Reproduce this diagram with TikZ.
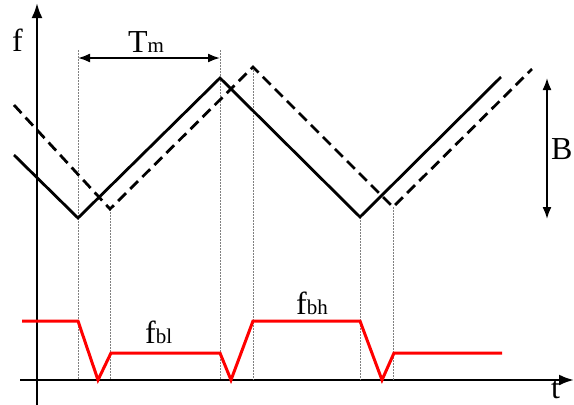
\documentclass[tikz,border=0pt]{standalone}
\usepackage{fontspec}
\setmainfont{Liberation Serif}
\usetikzlibrary{arrows.meta}
\begin{document}
\begin{tikzpicture}[x=1pt,y=-1pt,
 wave/.style={line width=2.8pt, line join=miter},
 echo/.style={wave, dash pattern=on 11pt off 6pt},
 guide/.style={gray, line width=0.8pt, dash pattern=on 1.5pt off 1.5pt},
 beat/.style={red, line width=3pt, line join=miter},
 axis/.style={line width=2.4pt, -{Latex[length=15pt,width=11pt]}},
 dim/.style={line width=1.8pt, {Latex[length=12pt,width=9pt]}-{Latex[length=12pt,width=9pt]}},
 lbl/.style={inner sep=0, font=\fontsize{32}{36}\selectfont},
]
\useasboundingbox (0,0) rectangle (574,405);
% axes
\coordinate (ybot) at (37,405);
\coordinate (ytop) at (37,3);
\coordinate (xl) at (20,380);
\coordinate (xr) at (574,380);
\draw[axis] (ybot) -- (ytop);
\draw[axis] (xl) -- (xr);
% transmitted (solid)
\coordinate (s0) at (14,155);
\coordinate (s1) at (78,218);
\coordinate (s2) at (220,78);
\coordinate (s3) at (360,217);
\coordinate (s4) at (501,77);
% received (dashed)
\coordinate (d0) at (14,105);
\coordinate (d1) at (110,209);
\coordinate (d2) at (253,67);
\coordinate (d3) at (393,207);
\coordinate (d4) at (532,69);
% guide feet and tops
\coordinate (g1t) at (78,50);  \coordinate (g1b) at (78,380);
\coordinate (g2t) at (220,50); \coordinate (g2b) at (220,380);
\coordinate (g3b) at (110,380);
\coordinate (g4b) at (253,380);
\coordinate (g5b) at (360,380);
\coordinate (g6b) at (393,380);
\draw[guide] (g1t) -- (g1b);
\draw[guide] (g2t) -- (g2b);
\draw[guide] (d1) -- (g3b);
\draw[guide] (d2) -- (g4b);
\draw[guide] (s3) -- (g5b);
\draw[guide] (d3) -- (g6b);
\draw[wave] (s0) -- (s1) -- (s2) -- (s3) -- (s4);
\draw[echo] (d0) -- (d1) -- (d2) -- (d3) -- (d4);
% beat frequency (red)
\coordinate (r0) at (22,321);
\coordinate (r1) at (78,321);
\coordinate (r2) at (98,380);
\coordinate (r3) at (111,353);
\coordinate (r4) at (220,353);
\coordinate (r5) at (231,380);
\coordinate (r6) at (253,321);
\coordinate (r7) at (360,321);
\coordinate (r8) at (382,380);
\coordinate (r9) at (394,353);
\coordinate (r10) at (502,353);
\draw[beat] (r0) -- (r1) -- (r2) -- (r3) -- (r4) -- (r5) -- (r6) -- (r7) -- (r8) -- (r9) -- (r10);
% Tm dimension
\coordinate (tma) at (78,58);
\coordinate (tmb) at (220,58);
\draw[dim] (tma) -- (tmb);
% B dimension
\coordinate (ba) at (547,78);
\coordinate (bb) at (547,219);
\draw[dim] (ba) -- (bb);
% labels
\node[lbl, anchor=base west] (flab) at (12,51) {f};
\node[lbl, anchor=base west] (tmlab) at (128,52) {T{\fontsize{21}{24}\selectfont m}};
\node[lbl, anchor=base west] (blab) at (551,159) {B};
\node[lbl, anchor=base west] (fbl) at (145,343) {f{\fontsize{21}{24}\selectfont bl}};
\node[lbl, anchor=base west] (fbh) at (296,314) {f{\fontsize{21}{24}\selectfont bh}};
\node[lbl, anchor=base west] (tlab) at (551,398) {t};
\end{tikzpicture}
\end{document}
